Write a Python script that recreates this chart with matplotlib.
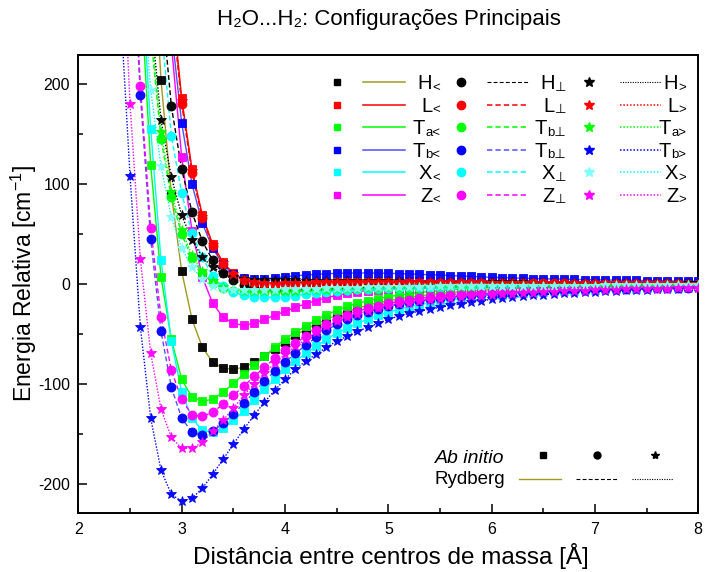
import numpy as np
import matplotlib.pyplot as plt
from matplotlib.lines import Line2D
from matplotlib.ticker import MultipleLocator

plt.rcParams['font.family'] = ['Liberation Sans', 'DejaVu Sans']
plt.rcParams['mathtext.fontset'] = 'custom'
plt.rcParams['mathtext.rm'] = 'Liberation Sans'
plt.rcParams['axes.unicode_minus'] = False

nan = np.nan

# distâncias entre centros de massa (Å), passo de 0.1 Å
distancia = np.round(np.arange(2.4, 8.001, 0.1), 1)


def serie(r_inicial, energias):
    # pontos antes do início da parede repulsiva ficam vazios
    n = int(round((r_inicial - 2.4) / 0.1))
    return np.array([nan] * n + energias, dtype=float)


# energias ab initio (cm-1) -- configurações "<"
H_menor = serie(2.7, [380, 204, 90, 13, -35, -63, -78, -84, -85, -83, -78, -72, -65,
                      -58, -51, -45, -40, -35, -31, -27, -24, -21, -18.5,
                      -16.5, -14.5, -13, -11.5, -10.3, -9.2, -8.2, -7.4, -6.6, -6,
                      -5.4, -4.9, -4.4, -4, -3.7, -3.4, -3.1, -2.8, -2.6, -2.4,
                      -2.2, -2.0, -1.9, -1.8, -1.7, -1.6, -1.5, -1.4, -1.3, -1.2, -1.1])
L_menor = serie(2.9, [290, 186, 115, 69, 40, 22, 11, 5, 2.5, 1.5, 1.3,
                      1.5, 1.8, 2.1, 2.4, 2.6, 2.8, 3.0, 3.1, 3.2, 3.2,
                      3.2, 3.2, 3.1, 3.0, 2.9, 2.8, 2.7, 2.6, 2.5, 2.4,
                      2.3, 2.2, 2.1, 2.0, 1.9, 1.85, 1.8, 1.7, 1.65, 1.6,
                      1.5, 1.45, 1.4, 1.35, 1.3, 1.25, 1.2, 1.15, 1.1, 1.05, 1.0])
Ta_menor = serie(2.6, [300, 119, 7, -55, -95, -113, -117, -115, -108, -99, -90, -81, -72, -63,
                       -55, -48, -42, -36, -30.5, -26, -22, -19, -16.5, -14.3,
                       -12.4, -10.8, -9.4, -8.2, -7.2, -6.3, -5.5, -4.8, -4.2, -3.7,
                       -3.3, -2.9, -2.6, -2.3, -2.1, -1.9, -1.7, -1.55, -1.4, -1.3,
                       -1.2, -1.1, -1.0, -0.95, -0.9, -0.85, -0.8, -0.75, -0.7, -0.65, -0.6])
Tb_menor = serie(2.9, [255, 161, 100, 61, 36, 20, 10, 6, 5, 5.5, 6.5,
                       7.5, 8.5, 9.3, 10, 10.5, 11, 11.2, 11.3, 11.3, 11.2,
                       11, 10.7, 10.4, 10.0, 9.6, 9.2, 8.8, 8.3, 7.9, 7.4,
                       7.0, 6.7, 6.4, 6.1, 5.8, 5.5, 5.3, 5.1, 4.9, 4.7,
                       4.5, 4.3, 4.2, 4.0, 3.9, 3.7, 3.6, 3.4, 3.3, 3.2, 3.1])
X_menor = serie(2.6, [330, 155, 24, -57, -108, -134, -146, -148, -144, -136, -127, -116, -105, -95,
                      -85, -77, -69, -62, -55, -49, -44, -39, -35, -31,
                      -28, -25, -22.5, -20.5, -18.5, -17, -15.5, -14.2, -13, -12,
                      -11, -10.2, -9.5, -8.8, -8.2, -7.6, -7.1, -6.6, -6.2, -5.8,
                      -5.4, -5.1, -4.8, -4.5, -4.2, -4.0, -3.8, -3.6, -3.4, -3.2, -3.0])
Z_menor = serie(2.9, [240, 127, 53, 7, -19, -33, -39, -41, -39, -35, -31,
                      -27, -23, -19.5, -16.3, -13.5, -11, -9, -7.4, -6.2, -5.3,
                      -4.6, -4.1, -3.7, -3.4, -3.2, -3.0, -2.9, -2.8, -2.7, -2.6,
                      -2.5, -2.45, -2.4, -2.35, -2.3, -2.25, -2.2, -2.15, -2.1, -2.05,
                      -2.0, -1.95, -1.9, -1.85, -1.8, -1.75, -1.7, -1.65, -1.6, -1.55, -1.5])

# configurações perpendiculares
H_perp = serie(2.8, [290, 178, 115, 72, 43, 24, 11, 4, -1, -4, -5, -5.3,
                     -5.3, -5.2, -5.0, -4.8, -4.5, -4.2, -3.9, -3.6, -3.4, -3.1,
                     -2.9, -2.7, -2.5, -2.3, -2.2, -2.0, -1.9, -1.8, -1.7, -1.6,
                     -1.5, -1.45, -1.4, -1.35, -1.3, -1.25, -1.2, -1.15, -1.1, -1.05,
                     -1.0, -0.96, -0.92, -0.88, -0.84, -0.8, -0.76, -0.72, -0.68, -0.64, -0.6])
L_perp = serie(2.9, [280, 180, 111, 66, 38, 20, 9.5, 4, 1.5, 0.5, 0.3,
                     0.5, 0.7, 0.9, 1.1, 1.3, 1.4, 1.5, 1.6, 1.6, 1.6,
                     1.6, 1.6, 1.5, 1.5, 1.4, 1.4, 1.3, 1.3, 1.2, 1.2,
                     1.1, 1.1, 1.0, 1.0, 0.95, 0.9, 0.9, 0.85, 0.8, 0.8,
                     0.75, 0.75, 0.7, 0.7, 0.65, 0.65, 0.6, 0.6, 0.55, 0.55, 0.5])
Ta_perp = serie(2.7, [250, 145, 87, 50, 26, 11, 1, -4, -6.5, -7.5, -8, -8, -7.8,
                      -7.5, -7.2, -6.8, -6.4, -6.0, -5.6, -5.2, -4.8, -4.5, -4.2,
                      -3.9, -3.6, -3.4, -3.2, -3.0, -2.8, -2.6, -2.5, -2.35, -2.2,
                      -2.1, -2.0, -1.9, -1.8, -1.75, -1.7, -1.65, -1.6, -1.55, -1.5,
                      -1.45, -1.4, -1.4, -1.35, -1.35, -1.3, -1.3, -1.25, -1.25, -1.2, -1.2])
Tb_perp = serie(2.5, [380, 189, 45, -47, -103, -134, -148, -151, -147, -139, -130, -119, -108, -97, -87,
                      -78, -69, -61, -53, -46, -40, -35, -31, -27.5, -24.5,
                      -22, -20, -18, -16.5, -15, -13.8, -12.7, -11.7, -10.8, -10,
                      -9.3, -8.7, -8.1, -7.6, -7.1, -6.7, -6.3, -5.9, -5.6, -5.3,
                      -5.0, -4.7, -4.5, -4.3, -4.1, -3.9, -3.7, -3.5, -3.4, -3.2, -3.1])
X_perp = serie(2.8, [260, 148, 91, 51, 27, 8, -2, -8, -11, -12.5, -13, -12.8,
                     -12.2, -11.2, -10, -8.8, -7.6, -6.6, -5.7, -5.0, -4.4, -3.9,
                     -3.5, -3.2, -2.9, -2.7, -2.5, -2.3, -2.2, -2.1, -2.0, -1.9,
                     -1.8, -1.75, -1.7, -1.65, -1.6, -1.55, -1.5, -1.45, -1.4, -1.35,
                     -1.3, -1.28, -1.26, -1.24, -1.22, -1.2, -1.18, -1.16, -1.14, -1.12, -1.1])
Z_perp = serie(2.5, [400, 198, 56, -33, -86, -115, -131, -132, -128, -120, -111, -102, -92, -83, -74,
                     -66, -59, -52, -46, -40, -35, -31, -27, -24, -21.5,
                     -19, -17, -15.3, -13.8, -12.5, -11.3, -10.3, -9.4, -8.6, -7.9,
                     -7.3, -6.7, -6.2, -5.8, -5.4, -5.0, -4.7, -4.4, -4.1, -3.9,
                     -3.7, -3.5, -3.3, -3.1, -3.0, -2.8, -2.7, -2.6, -2.5, -2.4, -2.3])

# configurações ">"
H_maior = serie(2.7, [270, 164, 107, 69, 44, 27, 17, 11, 7.5, 5.5, 4.7, 4.3, 4.1,
                      4.0, 3.9, 3.8, 3.7, 3.6, 3.5, 3.4, 3.3, 3.2, 3.1,
                      3.0, 2.9, 2.8, 2.7, 2.6, 2.5, 2.4, 2.3, 2.2, 2.1,
                      2.0, 1.95, 1.9, 1.85, 1.8, 1.75, 1.7, 1.65, 1.6, 1.55,
                      1.5, 1.45, 1.4, 1.35, 1.3, 1.25, 1.2, 1.15, 1.1, 1.05, 1.0])
L_maior = serie(2.9, [285, 183, 113, 67, 39, 21, 10.5, 4.5, 2, 1, 0.8,
                      1.0, 1.3, 1.6, 1.9, 2.1, 2.3, 2.5, 2.6, 2.7, 2.7,
                      2.7, 2.7, 2.6, 2.5, 2.4, 2.3, 2.2, 2.1, 2.0, 1.9,
                      1.8, 1.75, 1.7, 1.6, 1.55, 1.5, 1.45, 1.4, 1.35, 1.3,
                      1.25, 1.2, 1.15, 1.1, 1.05, 1.0, 0.95, 0.9, 0.85, 0.8, 0.75])
Ta_maior = serie(2.7, [260, 152, 92, 54, 29, 13, 3, -3, -5.5, -6.5, -7, -7, -6.8,
                       -6.5, -6.2, -5.9, -5.6, -5.3, -5.0, -4.7, -4.4, -4.1, -3.9,
                       -3.6, -3.4, -3.2, -3.0, -2.8, -2.6, -2.5, -2.35, -2.2, -2.1,
                       -2.0, -1.9, -1.8, -1.75, -1.7, -1.6, -1.55, -1.5, -1.45, -1.4,
                       -1.35, -1.3, -1.3, -1.25, -1.25, -1.2, -1.2, -1.15, -1.15, -1.1, -1.1])
Tb_maior = serie(2.4, [290, 108, -43, -134, -186, -210, -217, -214, -204, -190, -175, -160, -145, -131, -118, -106,
                       -95, -85, -77, -70, -63, -57, -52, -47, -43, -39,
                       -35, -32, -29, -27, -25, -23, -21, -19.5, -18, -16.5,
                       -15, -14, -13, -12, -11, -10.3, -9.6, -9, -8.4, -7.8,
                       -7.3, -6.8, -6.4, -6.0, -5.6, -5.2, -4.9, -4.6, -4.3, -4.0, -3.8])
X_maior = serie(2.6, [330, 194, 118, 67, 36, 17, 5, -2, -4.5, -5.5, -5.8, -5.8, -5.6, -5.4,
                      -5.1, -4.8, -4.5, -4.2, -3.9, -3.7, -3.4, -3.2, -3.0, -2.8,
                      -2.7, -2.5, -2.4, -2.3, -2.2, -2.1, -2.0, -1.9, -1.8, -1.75,
                      -1.7, -1.65, -1.6, -1.55, -1.5, -1.45, -1.4, -1.35, -1.3, -1.25,
                      -1.2, -1.18, -1.16, -1.14, -1.12, -1.1, -1.08, -1.06, -1.04, -1.02, -1.0])
Z_maior = serie(2.4, [400, 180, 25, -69, -125, -153, -164, -164, -158, -147, -136, -124, -111, -100, -89, -79,
                      -70, -62, -55, -48, -42, -37, -33, -29.5, -26.5, -24,
                      -22, -20, -18.5, -17, -15.8, -14.7, -13.7, -12.8, -12, -11.2,
                      -10.5, -9.9, -9.3, -8.8, -8.3, -7.8, -7.4, -7.0, -6.6, -6.3,
                      -6.0, -5.7, -5.4, -5.1, -4.9, -4.6, -4.4, -4.2, -4.0, -3.8, -3.6])

menor = [H_menor, L_menor, Ta_menor, Tb_menor, X_menor, Z_menor]
perp = [H_perp, L_perp, Ta_perp, Tb_perp, X_perp, Z_perp]
maior = [H_maior, L_maior, Ta_maior, Tb_maior, X_maior, Z_maior]

letras = ['H', 'L', 'T', 'T', 'X', 'Z']
ind_menor = ['<', '<', 'a<', 'b<', '<', '<']
ind_perp = ['⊥', '⊥', 'b⊥', 'b⊥', '⊥', '⊥']
ind_maior = ['>', '>', 'a>', 'b>', '>', '>']

cor_menor = ['black', 'red', '#00ff00', 'blue', 'cyan', 'magenta']
cor_perp = ['black', 'red', '#00ff00', 'blue', 'cyan', 'magenta']
cor_maior = ['black', 'red', '#00ff00', 'blue', '#80ffff', 'magenta']
linha_menor = ['#a09a20', 'red', '#00ff00', '#5050ff', 'cyan', 'magenta']
linha_perp = ['black', 'red', '#00ff00', '#5050ff', 'cyan', 'magenta']
linha_maior = ['black', 'red', '#00ff00', 'blue', 'cyan', 'magenta']

tracejado = (0, (3.5, 2))
pontilhado = (0, (1, 1.2))

grupos = [
    (menor, cor_menor, linha_menor, 's', 5.5, '-'),
    (perp, cor_perp, linha_perp, 'o', 6.5, tracejado),
    (maior, cor_maior, linha_maior, '*', 7.5, pontilhado),
]

fig = plt.figure(figsize=(7.05, 5.72), dpi=100)
ax = fig.add_axes([0.1112, 0.1026, 0.8792, 0.8007])

for series, cores, cores_linha, marcador, tam, estilo in grupos:
    for energia, cor, cor_l in zip(series, cores, cores_linha):
        # curva de Rydberg
        ax.plot(distancia, energia, color=cor_l, ls=estilo, lw=1.0, zorder=2)
        # pontos ab initio
        ax.plot(distancia, energia, ls='none', marker=marcador, ms=tam, color=cor,
                mec=cor, mew=0.6, alpha=0.95, zorder=3)

ax.set_xlim(2, 8)
ax.set_ylim(-229, 229)
ax.xaxis.set_major_locator(MultipleLocator(1))
ax.xaxis.set_minor_locator(MultipleLocator(0.5))
ax.yaxis.set_major_locator(MultipleLocator(100))
ax.yaxis.set_minor_locator(MultipleLocator(50))
ax.tick_params(which='both', direction='in', width=1.1, labelsize=11.5)
ax.tick_params(which='major', length=6.5)
ax.tick_params(which='minor', length=3.5)
ax.tick_params(axis='x', pad=6.5)
ax.tick_params(axis='y', pad=6)
for s in ax.spines.values():
    s.set_linewidth(1.4)

W, H = 705, 572


def px(x, y):
    return x / W, 1 - y / H


fig.text(*px(389, 20), 'H₂O...H₂: Configurações Principais', fontsize=16,
         ha='center', va='center')
fig.text(*px(391, 556), 'Distância entre centros de massa [Å]', fontsize=17.5,
         ha='center', va='center')
fig.text(*px(24, 284), 'Energia Relativa [cm$^{-1}$]', fontsize=16.5,
         ha='center', va='center', rotation=90)

renderer = fig.canvas.get_renderer()


def rotulo(x_dir, y_base, principal, indice):
    t = fig.text(*px(x_dir, y_base + 1.5), indice, fontsize=9.5, ha='right',
                 va='baseline', family=['Liberation Sans', 'DejaVu Sans'])
    w = t.get_window_extent(renderer).width
    fig.text(*px(x_dir - w, y_base), principal, fontsize=14.5, ha='right', va='baseline')


def amostra(x0, x1, y, cor, estilo, lw=1.0):
    fig.add_artist(Line2D([x0 / W, x1 / W], [1 - y / H, 1 - y / H], color=cor,
                          ls=estilo, lw=lw, transform=fig.transFigure))


def marca(x, y, marcador, cor, tam):
    fig.add_artist(Line2D([x / W], [1 - y / H], ls='none', marker=marcador, ms=tam,
                          color=cor, mec=cor, transform=fig.transFigure))


# legenda das configurações: marcador, curva, rótulo
linhas_y = [82, 104.5, 127, 149.5, 172, 194.5]
colunas = [
    (337, 363, 405, 440, ind_menor, cor_menor, linha_menor, 's', 5, '-'),
    (461, 487, 528, 566, ind_perp, cor_perp, linha_perp, 'o', 6, tracejado),
    (589, 620, 661, 686, ind_maior, cor_maior, linha_maior, '*', 7.5, pontilhado),
]
for xm, xl0, xl1, xr, indices, cores, cores_linha, marcador, tam, estilo in colunas:
    for y, letra, ind, cor, cor_l in zip(linhas_y, letras, indices, cores, cores_linha):
        marca(xm, y, marcador, cor, tam)
        amostra(xl0, xl1, y, cor_l, estilo, lw=1.1 if cor_l != 'black' else 0.8)
        rotulo(xr, y + 7.3, letra, ind)

# legenda dos tipos de dado
fig.text(*px(435, 463), 'Ab initio', fontsize=14, style='italic', ha='left', va='baseline')
fig.text(*px(435, 484), 'Rydberg', fontsize=13.5, ha='left', va='baseline')
marca(542.7, 455, 's', 'black', 4.5)
marca(596.7, 455, 'o', 'black', 5)
marca(655, 455, '*', 'black', 6)
amostra(519, 561, 479, '#a09a20', '-')
amostra(576, 617, 479, 'black', tracejado, lw=0.8)
amostra(632, 673, 479, 'black', pontilhado, lw=0.8)

fig.savefig('out.png', dpi=100)
